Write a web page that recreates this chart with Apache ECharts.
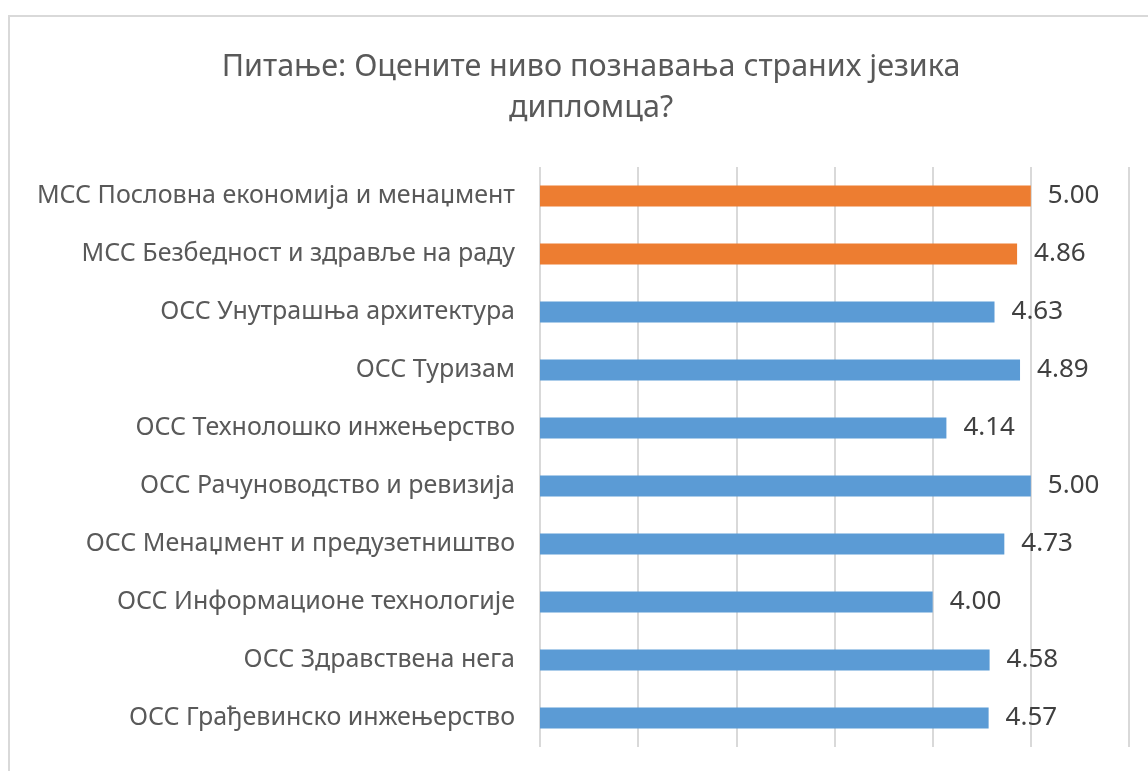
<!DOCTYPE html>
<html>
<head>
<meta charset="utf-8">
<script src="https://cdn.jsdelivr.net/npm/echarts@6/dist/echarts.min.js"></script>
<style>
  html, body { margin: 0; padding: 0; background: #fff; }
  #chart { width: 1148px; height: 771px; }
</style>
</head>
<body>
<div id="chart"></div>
<script>
// categories, top to bottom as shown
const categories = [
  "МСС Пословна економија и менаџмент",
  "МСС Безбедност и здравље на раду",
  "ОСС Унутрашња архитектура",
  "ОСС Туризам",
  "ОСС Технолошко инжењерство",
  "ОСС Рачуноводство и ревизија",
  "ОСС Менаџмент и предузетништво",
  "ОСС Информационе технологије",
  "ОСС Здравствена нега",
  "ОСС Грађевинско инжењерство"
];
const values = [5.00, 4.86, 4.63, 4.89, 4.14, 5.00, 4.73, 4.00, 4.58, 4.57];
const isMaster = [true, true, false, false, false, false, false, false, false, false];

const orange = "#ED7D31";
const blue = "#5B9BD5";
const textColor = "#595959";
const fontFamily = "'Noto Sans', 'Open Sans', sans-serif";

let myChart = echarts.init(document.getElementById("chart"));
myChart.setOption({
  animation: false,
  title: {
    text: "Питање: Оцените ниво познавања страних језика\nдипломца?",
    left: 586,
    textAlign: "center",
    top: 42,
    textStyle: {
      color: textColor,
      fontFamily: fontFamily,
      fontSize: 30.5,
      fontWeight: "normal",
      lineHeight: 41
    }
  },
  graphic: [
    {
      type: "rect",
      shape: { x: 9, y: 16, width: 1200, height: 820 },
      style: { fill: "none", stroke: "#d9d9d9", lineWidth: 2 },
      silent: true
    }
  ],
  grid: {
    left: 540,
    right: 19,
    top: 167,
    bottom: 24
  },
  xAxis: {
    type: "value",
    min: 0,
    max: 6,
    interval: 1,
    axisLine: { show: false },
    axisTick: { show: false },
    axisLabel: { show: false },
    splitLine: {
      lineStyle: { color: "#d9d9d9", width: 2 }
    }
  },
  yAxis: {
    type: "category",
    inverse: true,
    data: categories,
    axisLine: { show: false },
    axisTick: { show: false },
    axisLabel: {
      margin: 25,
      color: textColor,
      fontFamily: fontFamily,
      fontSize: 25
    }
  },
  series: [
    {
      type: "bar",
      barWidth: 21,
      data: values.map((v, i) => ({
        value: v,
        itemStyle: { color: isMaster[i] ? orange : blue }
      })),
      label: {
        show: true,
        position: "right",
        distance: 17,
        color: "#404040",
        fontFamily: fontFamily,
        fontSize: 26,
        formatter: (p) => p.value.toFixed(2)
      }
    }
  ]
});
</script>
</body>
</html>
